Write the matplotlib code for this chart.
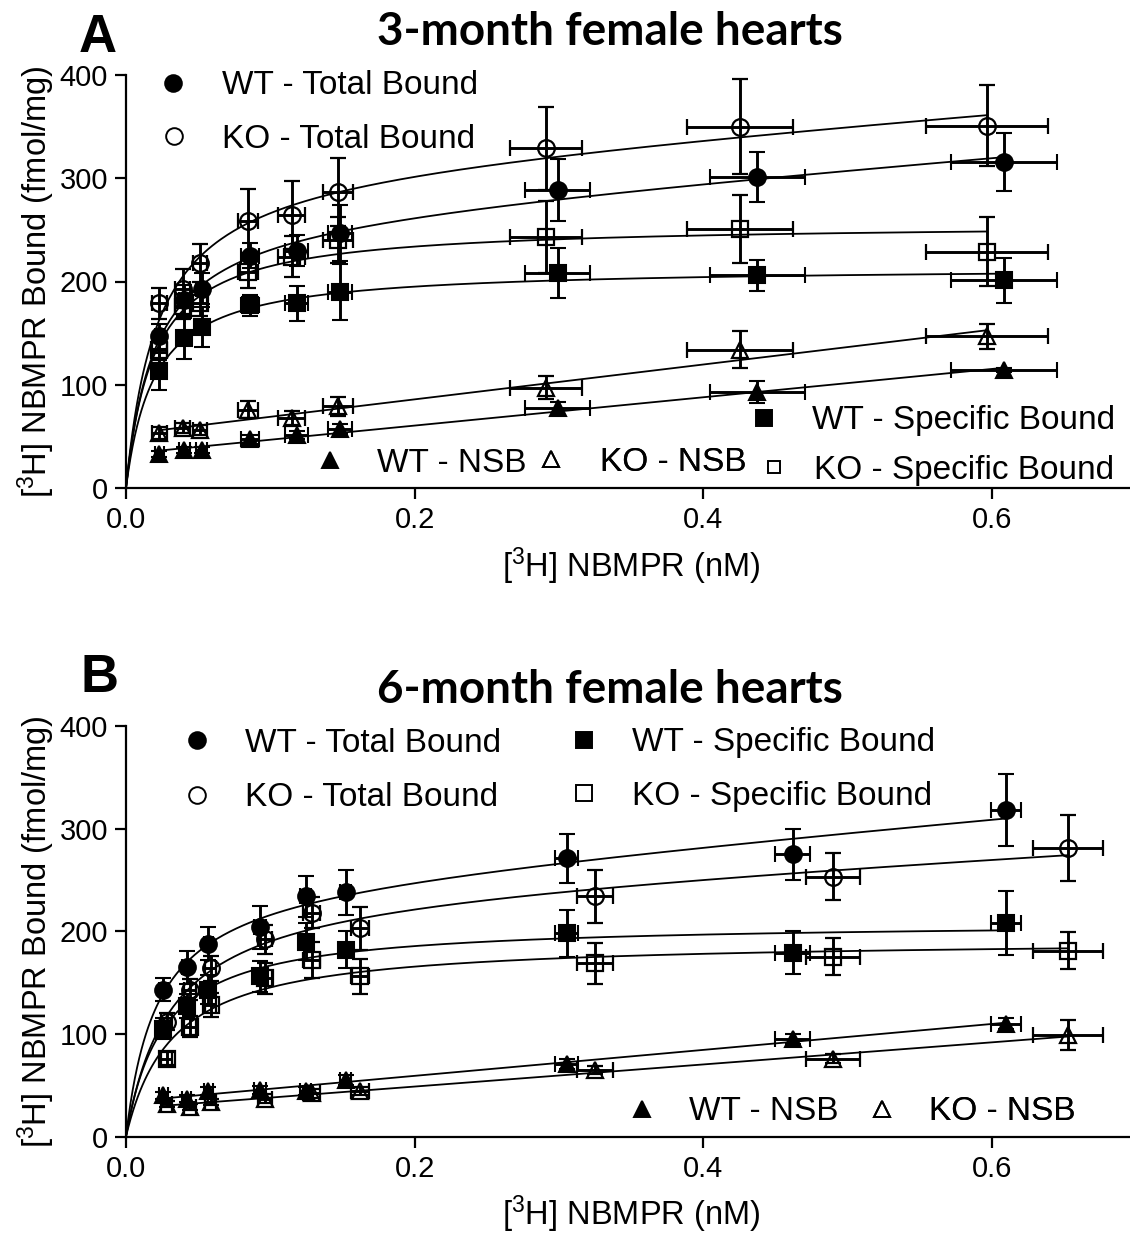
import numpy as np
import matplotlib
matplotlib.use("Agg")
import matplotlib.pyplot as plt
from matplotlib.lines import Line2D

plt.rcParams['font.family'] = ['Liberation Sans', 'DejaVu Sans']
plt.rcParams['mathtext.fontset'] = 'custom'
plt.rcParams['mathtext.rm'] = 'Liberation Sans'
plt.rcParams['mathtext.it'] = 'Liberation Sans:italic'
plt.rcParams['mathtext.bf'] = 'Liberation Sans:bold'

# ---------------- 3-month hearts ----------------
a_wt_x = [0.0231, 0.0404, 0.0524, 0.0859, 0.1183, 0.1483, 0.2992, 0.4376, 0.6087]
a_wt_xerr = [0.003, 0.004, 0.004, 0.006, 0.008, 0.008, 0.0225, 0.033, 0.0368]
a_ko_x = [0.0231, 0.0393, 0.0513, 0.0843, 0.1148, 0.1472, 0.291, 0.4256, 0.5967]
a_ko_xerr = [0.005, 0.005, 0.005, 0.007, 0.0095, 0.0104, 0.0252, 0.0369, 0.0423]

a_wt_total = [147, 182, 193, 225, 230, 247, 289, 301, 316]
a_wt_total_err = [12, 15, 15, 12, 15, 27, 30, 24, 28]
a_ko_total = [179, 193, 218, 259, 264, 287, 329, 350, 351]
a_ko_total_err = [15, 19, 18, 31, 33, 33, 40, 46, 39]
a_wt_spec = [113, 145, 156, 177, 179, 190, 208, 206, 201]
a_wt_spec_err = [18, 20, 19, 10, 17, 27, 24, 15, 22]
a_ko_spec = [134, 176, 179, 209, 224, 240, 243, 251, 229]
a_ko_spec_err = [10, 12, 12, 15, 20, 22, 35, 33, 33]
a_wt_nsb = [33, 37, 37, 47, 51, 57, 77, 93, 114]
a_wt_nsb_err = [3, 3, 3, 4, 4, 5, 6, 11, 2]
a_ko_nsb = [53, 58, 56, 76, 68, 79, 97, 134, 147]
a_ko_nsb_err = [6, 5, 5, 8, 7, 9, 11, 18, 12]

# ---------------- 6-month hearts ----------------
b_wt_x = [0.0259, 0.042, 0.057, 0.0929, 0.1245, 0.1522, 0.3054, 0.462, 0.610]
b_wt_xerr = [0.003, 0.003, 0.003, 0.004, 0.004, 0.004, 0.008, 0.012, 0.0104]
b_ko_x = [0.0282, 0.0444, 0.0587, 0.0963, 0.1287, 0.1622, 0.325, 0.490, 0.6527]
b_ko_xerr = [0.004, 0.004, 0.004, 0.005, 0.006, 0.006, 0.0126, 0.019, 0.0244]

b_wt_total = [143, 165, 188, 204, 234, 238, 271, 275, 318]
b_wt_total_err = [11, 16, 16, 21, 20, 22, 24, 25, 35]
b_ko_total = [112, 143, 164, 192, 218, 203, 234, 253, 281]
b_ko_total_err = [8, 10, 12, 14, 15, 21, 26, 23, 32]
b_wt_spec = [105, 127, 143, 156, 190, 182, 198, 179, 208]
b_wt_spec_err = [10, 12, 14, 15, 18, 18, 23, 21, 31]
b_ko_spec = [76, 107, 128, 154, 172, 156, 169, 175, 181]
b_ko_spec_err = [6, 10, 12, 15, 18, 17, 20, 18, 18]
b_wt_nsb = [40, 37, 44, 45, 44, 55, 71, 95, 110]
b_wt_nsb_err = [3, 3, 4, 4, 4, 5, 5, 5, 5]
b_ko_nsb = [32, 29, 34, 37, 42, 44, 65, 76, 99]
b_ko_nsb_err = [3, 3, 3, 4, 4, 4, 4, 4, 15]

x_ticks = [0.0, 0.2, 0.4, 0.6]
y_ticks = [0, 100, 200, 300, 400]

# ---------------- model fits ----------------
KD_GRID = np.linspace(0.002, 0.4, 4000)


def fit_one_site_specific(x, y):
    x, y = np.asarray(x, float), np.asarray(y, float)
    best = None
    for kd in KD_GRID:
        h = x / (kd + x)
        bmax = h @ y / (h @ h)
        sse = np.sum((y - bmax * h) ** 2)
        if best is None or sse < best[0]:
            best = (sse, bmax, kd)
    _, bmax, kd = best
    return lambda t: bmax * t / (kd + t)


def fit_one_site_total(x, y):
    x, y = np.asarray(x, float), np.asarray(y, float)
    best = None
    for kd in KD_GRID:
        A = np.column_stack([x / (kd + x), x])
        coef, *_ = np.linalg.lstsq(A, y, rcond=None)
        sse = np.sum((y - A @ coef) ** 2)
        if best is None or sse < best[0]:
            best = (sse, coef, kd)
    _, (bmax, ns), kd = best
    return lambda t: bmax * t / (kd + t) + ns * t


def fit_linear(x, y):
    slope, icpt = np.polyfit(x, y, 1)
    return lambda t: slope * t + icpt


# ---------------- figure ----------------
W, H = 1130, 1236
fig = plt.figure(figsize=(W / 100, H / 100), dpi=100)

FS_TICK = 21
FS_LAB = 23.5
FS_LEG = 24


def px_axes(left, top, right, bottom):
    return fig.add_axes([left / W, 1 - bottom / H, (right - left) / W, (bottom - top) / H])


ERR_KW = dict(ecolor='black', elinewidth=2.1, capsize=5.5, capthick=2.1, linestyle='none')

STYLES = {
    'wt_total': dict(marker='o', ms=12, mfc='black', mec='black', mew=1.5),
    'ko_total': dict(marker='o', ms=12, mfc='none', mec='black', mew=1.6),
    'wt_spec': dict(marker='s', ms=11.5, mfc='black', mec='black', mew=1.5),
    'ko_spec': dict(marker='s', ms=11.5, mfc='none', mec='black', mew=1.6),
    'wt_nsb': dict(marker='^', ms=12, mfc='black', mec='black', mew=1.5),
    'ko_nsb': dict(marker='^', ms=12, mfc='none', mec='black', mew=1.6),
}

LABELS = {
    'wt_total': 'WT - Total Bound',
    'ko_total': 'KO - Total Bound',
    'wt_spec': 'WT - Specific Bound',
    'ko_spec': 'KO - Specific Bound',
    'wt_nsb': 'WT - NSB',
    'ko_nsb': 'KO - NSB',
}


def draw_panel(ax, series):
    for key, x, xerr, y, yerr, kind in series:
        ax.errorbar(x, y, yerr=yerr, xerr=xerr, **ERR_KW, **STYLES[key], zorder=3)
        if kind == 'total':
            f = fit_one_site_total(x, y)
            xs = np.linspace(0, max(x), 400)
        elif kind == 'spec':
            f = fit_one_site_specific(x, y)
            xs = np.linspace(0, max(x), 400)
        else:
            f = fit_linear(x, y)
            xs = np.linspace(min(x), max(x), 50)
        ax.plot(xs, f(xs), color='black', lw=1.3, zorder=2)

    ax.set_xlim(0, 0.7)
    ax.set_ylim(0, 400)
    ax.set_xticks(x_ticks)
    ax.set_xticklabels([f'{v:.1f}' for v in x_ticks])
    ax.set_yticks(y_ticks)
    for s in ('top', 'right'):
        ax.spines[s].set_visible(False)
    for s in ('left', 'bottom'):
        ax.spines[s].set_linewidth(1.6)
    ax.tick_params(labelsize=FS_TICK, width=1.6, length=8, pad=5)
    ax.set_xlabel(r'[$^3$H] NBMPR (nM)', fontsize=FS_LAB, labelpad=8)
    ax.set_ylabel(r'[$^3$H] NBMPR Bound (fmol/mg)', fontsize=FS_LAB, labelpad=2)


def legend_entry(ax, key, marker_x, y, text_x, ms=12):
    """One legend row: symbol centred at figure pixel (marker_x, y), label starting at text_x."""
    st = STYLES[key]
    h = Line2D([], [], linestyle='none', marker=st['marker'], ms=ms,
               mfc=st['mfc'], mec='black', mew=1.4)
    hl = 1.0
    fs_px = FS_LEG * 100 / 72
    pad = (text_x - marker_x) / fs_px - hl / 2
    leg = ax.legend([h], [LABELS[key]], loc='center left', frameon=False,
                    fontsize=FS_LEG, handlelength=hl, handletextpad=pad,
                    borderpad=0, borderaxespad=0,
                    bbox_to_anchor=((marker_x - hl / 2 * fs_px) / W, 1 - y / H),
                    bbox_transform=fig.transFigure)
    ax.add_artist(leg)


# Panel A
axA = px_axes(126, 75, 1136, 488)
draw_panel(axA, [
    ('wt_nsb', a_wt_x, a_wt_xerr, a_wt_nsb, a_wt_nsb_err, 'nsb'),
    ('ko_nsb', a_ko_x, a_ko_xerr, a_ko_nsb, a_ko_nsb_err, 'nsb'),
    ('wt_spec', a_wt_x, a_wt_xerr, a_wt_spec, a_wt_spec_err, 'spec'),
    ('ko_spec', a_ko_x, a_ko_xerr, a_ko_spec, a_ko_spec_err, 'spec'),
    ('wt_total', a_wt_x, a_wt_xerr, a_wt_total, a_wt_total_err, 'total'),
    ('ko_total', a_ko_x, a_ko_xerr, a_ko_total, a_ko_total_err, 'total'),
])
legend_entry(axA, 'wt_total', 173, 86, 222)
legend_entry(axA, 'ko_total', 174, 139, 222)
legend_entry(axA, 'wt_spec', 764, 421, 812, ms=12)
legend_entry(axA, 'ko_spec', 774, 470, 814, ms=8)
legend_entry(axA, 'wt_nsb', 330, 463, 377, ms=11)
legend_entry(axA, 'ko_nsb', 551, 462, 600, ms=11)

# Panel B
axB = px_axes(126, 726, 1136, 1136.5)
draw_panel(axB, [
    ('wt_nsb', b_wt_x, b_wt_xerr, b_wt_nsb, b_wt_nsb_err, 'nsb'),
    ('ko_nsb', b_ko_x, b_ko_xerr, b_ko_nsb, b_ko_nsb_err, 'nsb'),
    ('wt_spec', b_wt_x, b_wt_xerr, b_wt_spec, b_wt_spec_err, 'spec'),
    ('ko_spec', b_ko_x, b_ko_xerr, b_ko_spec, b_ko_spec_err, 'spec'),
    ('wt_total', b_wt_x, b_wt_xerr, b_wt_total, b_wt_total_err, 'total'),
    ('ko_total', b_ko_x, b_ko_xerr, b_ko_total, b_ko_total_err, 'total'),
])
legend_entry(axB, 'wt_total', 197, 743, 245)
legend_entry(axB, 'ko_total', 197, 798, 245)
legend_entry(axB, 'wt_spec', 584, 743, 632)
legend_entry(axB, 'ko_spec', 584, 796, 632)
legend_entry(axB, 'wt_nsb', 642, 1112, 689, ms=11)
legend_entry(axB, 'ko_nsb', 882, 1112, 929, ms=11)

# Titles and panel letters
TITLE_KW = dict(fontsize=33, fontweight='bold', family=['Lato', 'DejaVu Sans'],
                ha='center', va='center')
fig.text(610 / W, 1 - 32 / H, '3-month female hearts', **TITLE_KW)
fig.text(610 / W, 1 - 690 / H, '6-month female hearts', **TITLE_KW)
fig.text(98 / W, 1 - 38 / H, 'A', fontsize=38, fontweight='bold', ha='center', va='center')
fig.text(99 / W, 1 - 678 / H, 'B', fontsize=38, fontweight='bold', ha='center', va='center')

fig.savefig('out.png', dpi=100)
